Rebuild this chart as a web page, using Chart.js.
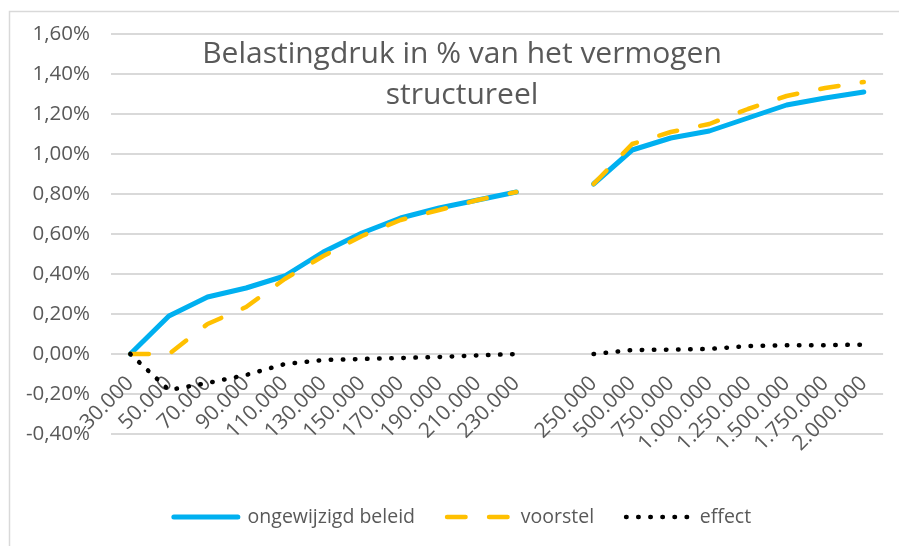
<!DOCTYPE html>
<html>
<head>
<meta charset="utf-8">
<script src="https://cdn.jsdelivr.net/npm/chart.js@4"></script>
<style>
  html, body { margin: 0; padding: 0; background: #ffffff; }
  #wrap { position: relative; width: 899px; height: 546px; }
</style>
</head>
<body>
<div id="wrap"><canvas id="c" width="899" height="546"></canvas></div>
<script>
// ---- data ----
const categories = ['30.000','50.000','70.000','90.000','110.000','130.000','150.000','170.000','190.000','210.000','230.000','',
                    '250.000','500.000','750.000','1.000.000','1.250.000','1.500.000','1.750.000','2.000.000'];
const ongewijzigd = [0, 0.19, 0.285, 0.33, 0.39, 0.51, 0.605, 0.68, 0.73, 0.77, 0.81, null,
                     0.85, 1.02, 1.08, 1.115, 1.18, 1.245, 1.28, 1.31];
const voorstel    = [0, 0, 0.15, 0.235, 0.375, 0.49, 0.59, 0.67, 0.72, 0.77, 0.81, null,
                     0.85, 1.05, 1.11, 1.15, 1.225, 1.29, 1.33, 1.36];
const effect      = [0, -0.18, -0.145, -0.105, -0.05, -0.03, -0.025, -0.02, -0.015, -0.007, 0, null,
                     0, 0.02, 0.022, 0.025, 0.04, 0.044, 0.044, 0.047];
const seriesNames = ['ongewijzigd beleid', 'voorstel', 'effect'];
const titleLines  = ['Belastingdruk in % van het vermogen', 'structureel'];
const yMin = -0.4, yMax = 1.6, yStep = 0.2;

const GREY = '#595959';
const FONT = '"Open Sans"';

const frameAndTitle = {
  id: 'frameAndTitle',
  beforeDraw(chart) {
    const ctx = chart.ctx;
    ctx.save();
    ctx.strokeStyle = '#d9d9d9';
    ctx.lineWidth = 1.5;
    ctx.strokeRect(9.5, 11.5, 1000, 1000);
    ctx.restore();
  },
  afterDraw(chart) {
    const ctx = chart.ctx;
    ctx.save();
    ctx.fillStyle = GREY;
    ctx.font = '30px ' + FONT;
    ctx.textAlign = 'center';
    ctx.textBaseline = 'alphabetic';
    ctx.fillText(titleLines[0], 462, 63);
    ctx.fillText(titleLines[1], 462, 104);
    ctx.restore();
  }
};

new Chart(document.getElementById('c'), {
  type: 'line',
  data: {
    labels: categories,
    datasets: [
      { label: seriesNames[0], data: ongewijzigd, borderColor: '#00B0F0', backgroundColor: '#00B0F0',
        borderWidth: 5, borderCapStyle: 'round', borderJoinStyle: 'round', pointRadius: 0, order: 3 },
      { label: seriesNames[1], data: voorstel, borderColor: '#FFC000', backgroundColor: '#FFC000',
        borderWidth: 4.5, borderDash: [18.5, 23.5], borderCapStyle: 'round', borderJoinStyle: 'round', pointRadius: 0, order: 2 },
      { label: seriesNames[2], data: effect, borderColor: '#000000', backgroundColor: '#000000',
        borderWidth: 4.5, borderDash: [0.5, 11.6], borderCapStyle: 'round', borderJoinStyle: 'round', pointRadius: 0, order: 1 }
    ]
  },
  options: {
    responsive: false,
    animation: false,
    spanGaps: false,
    layout: { padding: { left: 26, right: 0, top: 34, bottom: 9.25 } },
    elements: { line: { tension: 0 } },
    plugins: {
      title: { display: false },
      tooltip: { enabled: false },
      legend: {
        display: true,
        position: 'bottom',
        labels: {
          usePointStyle: true,
          pointStyle: 'line',
          pointStyleWidth: 64,
          padding: 32,
          color: GREY,
          font: { family: FONT, size: 19.5 },
          sort: (a, b) => a.datasetIndex - b.datasetIndex,
          generateLabels(chart) {
            const items = Chart.defaults.plugins.legend.labels.generateLabels(chart);
            items.forEach(it => {
              const ds = chart.data.datasets[it.datasetIndex];
              it.pointStyle = 'line';
              it.lineDash = ds.borderDash ? ds.borderDash.slice() : [];
              it.lineDashOffset = 0;
              it.lineWidth = ds.borderWidth;
              it.lineCap = 'round';
              it.strokeStyle = ds.borderColor;
              it.fillStyle = ds.borderColor;
            });
            return items;
          }
        }
      }
    },
    scales: {
      y: {
        min: yMin, max: yMax,
        grid: { color: '#d9d9d9', lineWidth: 2, drawTicks: false },
        border: { display: false },
        ticks: {
          stepSize: yStep,
          padding: 21,
          color: GREY,
          font: { family: FONT, size: 20.5 },
          callback: v => {
            const r = Math.round(v * 100) / 100;
            return r.toFixed(2).replace('.', ',') + '%';
          }
        },
        afterFit(s) { s.width = 85; }
      },
      y2: {
        type: 'linear',
        position: 'right',
        grid: { display: false, drawTicks: false },
        border: { display: false },
        ticks: { display: false },
        afterFit(s) { s.width = 15; }
      },
      x: {
        type: 'category',
        position: { y: 0 },
        offset: true,
        grid: { display: false, drawTicks: false },
        border: { display: false },
        ticks: {
          autoSkip: false, maxRotation: 45, minRotation: 45, padding: 17,
          color: GREY, font: { family: FONT, size: 21 }
        }
      },
      x2: {
        type: 'category',
        labels: categories,
        position: 'bottom',
        grid: { display: false, drawTicks: false },
        border: { display: false },
        ticks: { display: false },
        afterFit(s) { s.height = 41.25; }
      }
    }
  },
  plugins: [frameAndTitle]
});
</script>
</body>
</html>
